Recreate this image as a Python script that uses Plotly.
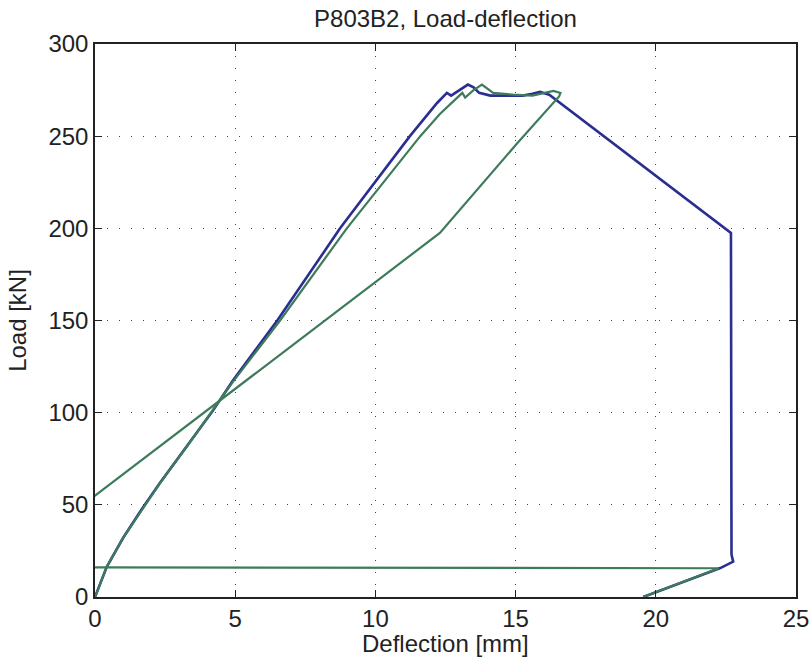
import plotly.graph_objects as go

# Blue series (test curve 1)
blue_x = [0.0, 0.2, 0.42, 1.0, 1.66, 2.32, 3.27, 4.22, 4.93, 6.5, 8.74, 11.23, 12.2, 12.55, 12.7, 12.9,
          13.3, 13.5, 13.7, 14.1, 15.26, 15.6, 15.87, 16.2, 22.68, 22.7, 22.76, 22.3, 19.55]
blue_y = [0.0, 7.5, 16.4, 32.0, 47.5, 62.0, 81.5, 101.5, 117.7, 150.0, 200.0, 250.0, 268.0, 273.5, 272.0, 274.0,
          278.0, 276.5, 273.5, 272.0, 272.0, 273.0, 274.0, 272.5, 197.5, 23.0, 19.2, 15.7, 0.0]

# Green series (test curve 2)
green_x = [0.0, 0.2, 0.42, 1.0, 1.66, 2.32, 3.27, 4.22, 4.93, 6.6, 8.98, 11.6, 12.3, 13.1, 13.2, 13.5,
           13.8, 14.2, 14.9, 15.6, 16.0, 16.35, 16.6, 16.55, 15.05, 12.3, -0.5, -0.5, 22.25, 19.55]
green_y = [0.0, 7.5, 16.4, 32.0, 47.2, 61.8, 81.5, 101.5, 117.0, 150.0, 200.0, 250.0, 262.0, 273.5, 271.0, 275.0,
           278.0, 273.5, 272.5, 272.0, 273.5, 274.6, 273.5, 271.5, 246.0, 197.5, 49.2, 16.1, 15.6, 0.0]

x_ticks = [0, 5, 10, 15, 20, 25]
y_ticks = [0, 50, 100, 150, 200, 250, 300]

FONT = "Liberation Sans, Arial, Helvetica, sans-serif"
TXT = "#222222"
FS = 24

fig = go.Figure()
fig.add_trace(go.Scatter(x=blue_x, y=blue_y, mode="lines",
                         line=dict(color="#2b2e91", width=2.6), showlegend=False))
fig.add_trace(go.Scatter(x=green_x, y=green_y, mode="lines",
                         line=dict(color="#3e7b5a", width=2.2), showlegend=False))

axis_common = dict(
    showline=True, linecolor="#222222", linewidth=1.5, mirror="ticks",
    ticks="inside", ticklen=7, tickwidth=1.2, tickcolor="#222222",
    showgrid=True, gridcolor="#444444", gridwidth=1, griddash="1px,11px",
    zeroline=False, automargin=False, tickfont=dict(family=FONT, size=FS, color=TXT),
)

fig.update_xaxes(range=[0, 25], tickvals=x_ticks, ticktext=[str(v) for v in x_ticks],
                 ticklabelstandoff=-1, **axis_common)
fig.update_yaxes(range=[0, 300], tickvals=y_ticks, ticktext=[str(v) for v in y_ticks],
                 title=dict(text="Load [kN]", font=dict(family=FONT, size=FS, color=TXT), standoff=15),
                 **axis_common)

fig.add_annotation(text="Deflection [mm]", xref="paper", yref="paper", x=0.5, y=-0.0832,
                   xanchor="center", yanchor="middle", showarrow=False,
                   font=dict(family=FONT, size=FS, color=TXT))

fig.update_layout(
    width=811, height=666,
    margin=dict(l=95, r=15, t=44, b=69),
    paper_bgcolor="white", plot_bgcolor="white",
    title=dict(text="P803B2, Load-deflection", x=0.5493, xanchor="center", y=0.9715, yanchor="middle",
               font=dict(family=FONT, size=FS, color=TXT)),
)

fig.write_html("out.html", config={"displayModeBar": False},
               post_script="document.body.style.margin='0px';")
